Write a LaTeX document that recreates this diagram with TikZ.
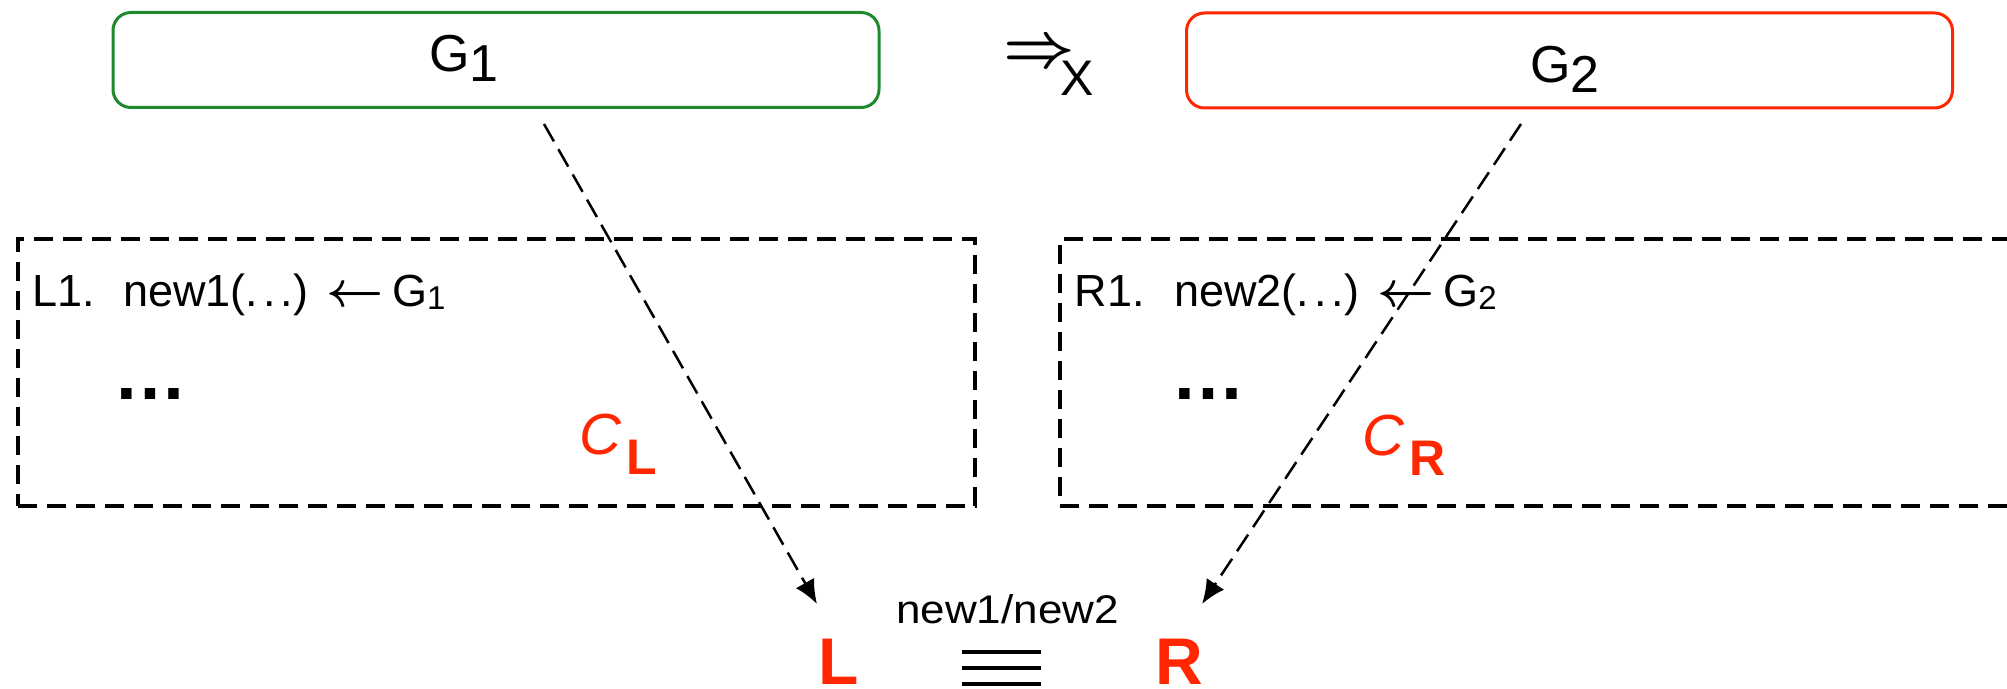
\documentclass[tikz,border=0pt]{standalone}
\usepackage{fontspec}
\setmainfont{Liberation Sans}
\newfontfamily\widefont{Liberation Sans}[FakeStretch=1.1]
\usetikzlibrary{arrows.meta}
\definecolor{boxgreen}{RGB}{31,138,45}
\definecolor{hot}{RGB}{255,38,0}
\newcommand{\fsz}[1]{\fontsize{#1}{#1}\selectfont}
\newcommand{\spdots}{.\hspace{2.5pt}.\hspace{2.5pt}.}
\newcommand{\larr}{\scalebox{1.2}{\fsz{20.74}\boldmath$\leftarrow$}}
\begin{document}
\begin{tikzpicture}[x=0.5pt,y=-0.5pt,
  txt/.style={inner sep=0pt,outer sep=0pt,anchor=base west},
  gbox/.style={draw=#1,line width=1.5pt,rounded corners=9pt,minimum width=383pt,minimum height=47.5pt,inner sep=0pt},
  dbox/.style={draw=black,line width=1.75pt,dash pattern=on 9.5pt off 5pt,inner sep=0pt,minimum height=133.5pt},
  flow/.style={draw=black,line width=1.25pt,dash pattern=on 10pt off 4.5pt,-{Latex[length=12pt,width=10.5pt]}},
  eqline/.style={line width=2pt},
]
\useasboundingbox (0,0) rectangle (2007,689);
\clip (0,0) rectangle (2007,689);
\fill[white] (0,0) rectangle (2007,689);

% top boxes
\node[gbox=boxgreen] (g1box) at (496,60) {};
\node[gbox=hot] (g2box) at (1569.5,60.5) {};
\node[txt] (g1) at (429,72) {\fsz{26}G\raisebox{-4.75pt}{1}};
\node[txt] (g2) at (1530,83) {\fsz{26}G\raisebox{-4.75pt}{2}};
\node[txt] (thr) at (1003,67) {\scalebox{1.25}{\fsz{24.88}\boldmath$\Rightarrow$}};
\node[txt] (xsub) at (1060,96) {\fsz{25}X};

% dashed boxes
\node[dbox,minimum width=478.5pt] (lbox) at (496.5,372.5) {};
\node[dbox,minimum width=490pt] (rbox) at (1550,372.5) {};

% left box content
\node[txt] (l1) at (32.8,307) {\fsz{22.5}\makebox[45.15pt][l]{L1.}\makebox[101.45pt][l]{new1(\spdots)}\larr\hspace{4.5pt}G\raisebox{-1.5pt}{\fsz{16.5}1}};
\node[txt] (dl) at (113,400) {\fsz{37}\bfseries …};
\node[txt,text=hot] (cl) at (579,454) {\fsz{29}\itshape C\hspace{3pt}\raisebox{-10pt}{\upshape\bfseries\fsz{25}L}};

% right box content
\node[txt] (r1) at (1074.5,307) {\fsz{22.5}\makebox[49.8pt][l]{R1.}\makebox[101.45pt][l]{new2(\spdots)}\larr\hspace{4.5pt}G\raisebox{-1.5pt}{\fsz{16.5}2}};
\node[txt] (dr) at (1171,400) {\fsz{37}\bfseries …};
\node[txt,text=hot] (cr) at (1362,455) {\fsz{29}\itshape C\hspace{3pt}\raisebox{-10pt}{\upshape\bfseries\fsz{25}R}};

% bottom
\node[txt,anchor=base] (lbl) at (1007.5,623) {\widefont\fsz{20}new1/new2};
\node[txt,text=hot] (Lt) at (818,684) {\fsz{33}\bfseries L};
\node[txt,text=hot] (Rt) at (1155,684) {\fsz{33}\bfseries R};
\node[inner sep=0pt,outer sep=0pt,minimum width=39.5pt,minimum height=16pt] (eq) at (1001.5,668) {};
\draw[eqline] (eq.north west) -- (eq.north east);
\draw[eqline] (eq.west) -- (eq.east);
\draw[eqline] (eq.south west) -- (eq.south east);

% connectors
\coordinate (s1) at (544,124);
\coordinate (t1) at (817,604);
\coordinate (s2) at (1521,124);
\coordinate (t2) at (1202,604);
\draw[flow] (s1) -- (t1);
\draw[flow] (s2) -- (t2);
\end{tikzpicture}
\end{document}
